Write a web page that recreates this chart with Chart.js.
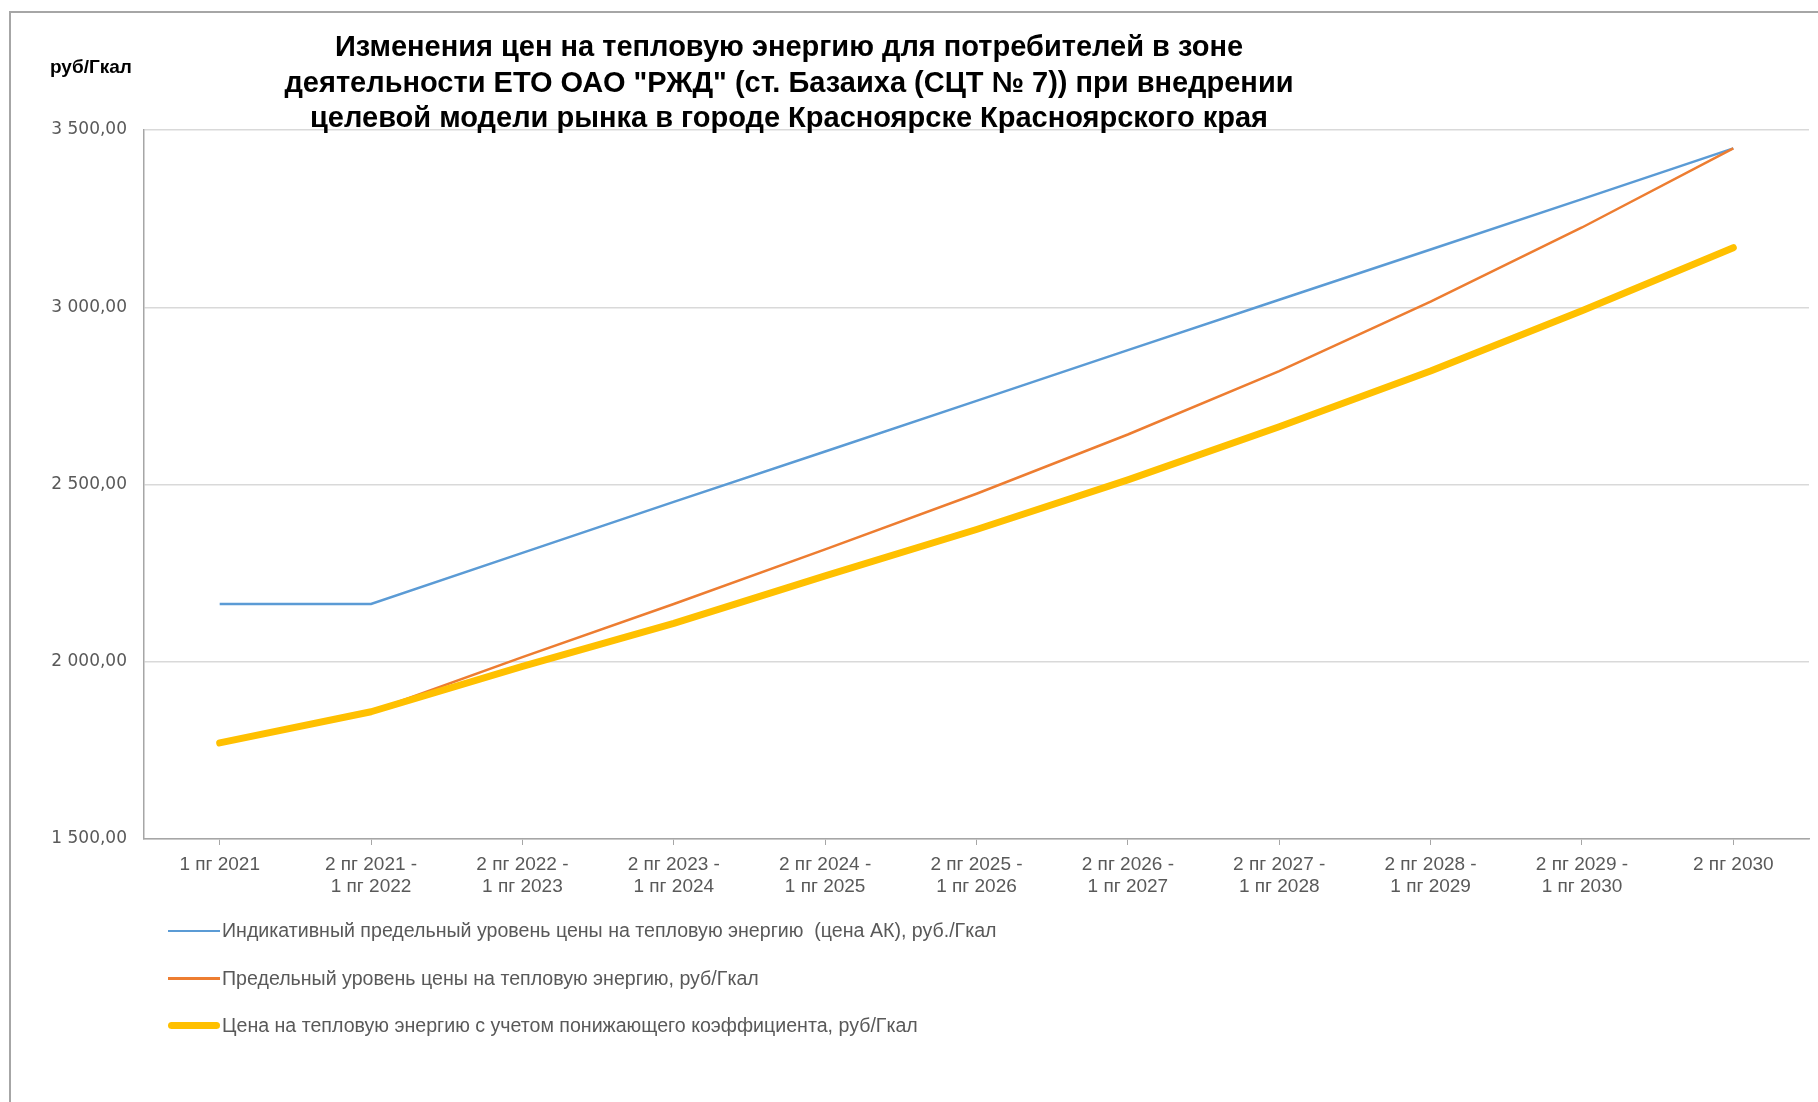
<!DOCTYPE html>
<html lang="ru">
<head>
<meta charset="utf-8">
<script src="https://cdn.jsdelivr.net/npm/chart.js@4.4.1/dist/chart.umd.min.js"></script>
<style>
  html, body { margin: 0; padding: 0; background: #fff; }
  #wrap { position: relative; width: 1818px; height: 1102px; overflow: hidden; }
  #frame { position: absolute; left: 9px; top: 11px; width: 1830px; height: 1120px;
           border-left: 2px solid #a6a6a6; border-top: 2px solid #a6a6a6; pointer-events: none; }
  #chart { position: absolute; left: 0; top: 0; }
  #legend { position: absolute; left: 168px; top: 907px; font-family: 'Liberation Sans', Arial, sans-serif;
            font-size: 19.6px; color: #595959; }
  .row { display: flex; align-items: center; height: 47.5px; white-space: pre; }
  .swatch { width: 52px; margin-right: 2px; }
</style>
</head>
<body>
<div id="wrap">
  <canvas id="chart" width="1818" height="1102"></canvas>
  <div id="frame"></div>
  <div id="legend"></div>
</div>
<script>
const categories = [
  ['1 пг 2021'],
  ['2 пг 2021 -', '1 пг 2022'],
  ['2 пг 2022 -', '1 пг 2023'],
  ['2 пг 2023 -', '1 пг 2024'],
  ['2 пг 2024 -', '1 пг 2025'],
  ['2 пг 2025 -', '1 пг 2026'],
  ['2 пг 2026 -', '1 пг 2027'],
  ['2 пг 2027 -', '1 пг 2028'],
  ['2 пг 2028 -', '1 пг 2029'],
  ['2 пг 2029 -', '1 пг 2030'],
  ['2 пг 2030']
];

// цена АК
const indicativePrice = [2163, 2163, 2307, 2451, 2593, 2736, 2879, 3021, 3163, 3305, 3448];
// предельный уровень
const limitPrice = [1771, 1859, 2013, 2163, 2317, 2474, 2641, 2820, 3016, 3225, 3448];
// с учетом понижающего коэффициента
const reducedPrice = [1771, 1859, 1987, 2108, 2242, 2373, 2513, 2663, 2820, 2990, 3168];

const yTicks = [1500, 2000, 2500, 3000, 3500];

const titleLines = [
  'Изменения цен на тепловую энергию для потребителей в зоне',
  'деятельности ЕТО ОАО "РЖД" (ст. Базаиха (СЦТ № 7)) при внедрении',
  'целевой модели рынка в городе Красноярске Красноярского края'
];
const unitLabel = 'руб/Гкал';

const seriesNames = [
  'Индикативный предельный уровень цены на тепловую энергию  (цена АК), руб./Гкал',
  'Предельный уровень цены на тепловую энергию, руб/Гкал',
  'Цена на тепловую энергию с учетом понижающего коэффициента, руб/Гкал'
];

function fmt(v) {
  const s = v.toFixed(2).replace('.', ',');
  const [i, d] = s.split(',');
  return i.replace(/\B(?=(\d{3})+(?!\d))/g, ' ') + ',' + d;
}

const textPlugin = {
  id: 'texts',
  beforeDraw(chart) {
    const ctx = chart.ctx;
    ctx.save();
    ctx.fillStyle = '#fff';
    ctx.fillRect(0, 0, chart.width, chart.height);
    ctx.restore();
  },
  afterDraw(chart) {
    const ctx = chart.ctx;
    ctx.save();
    ctx.fillStyle = '#000';
    ctx.textAlign = 'center';
    ctx.textBaseline = 'middle';
    ctx.font = 'bold 29px "Liberation Sans", Arial, sans-serif';
    titleLines.forEach((t, i) => ctx.fillText(t, 789, 48 + i * 35.5));
    ctx.textAlign = 'left';
    ctx.font = 'bold 19px "Liberation Sans", Arial, sans-serif';
    ctx.fillText(unitLabel, 50, 68);
    ctx.restore();
  }
};

const chart = new Chart(document.getElementById('chart'), {
  type: 'line',
  data: {
    labels: categories,
    datasets: [
      { label: seriesNames[0], data: indicativePrice, borderColor: '#5b9bd5', borderWidth: 2.5, order: 2 },
      { label: seriesNames[1], data: limitPrice, borderColor: '#ed7d31', borderWidth: 2.5, order: 1 },
      { label: seriesNames[2], data: reducedPrice, borderColor: '#ffc000', borderWidth: 7,
        borderCapStyle: 'round', borderJoinStyle: 'round', order: 0 }
    ]
  },
  options: {
    responsive: false,
    animation: false,
    events: [],
    elements: { point: { radius: 0 }, line: { tension: 0 } },
    layout: { padding: { left: 0, right: 9, top: 130, bottom: 193 } },
    plugins: { legend: { display: false }, title: { display: false }, tooltip: { enabled: false } },
    scales: {
      x: {
        offset: true,
        grid: { drawOnChartArea: false, drawTicks: true, tickLength: 6, color: '#a6a6a6' },
        border: { color: '#a6a6a6', width: 1.5 },
        ticks: {
          autoSkip: false, maxRotation: 0, padding: 8, color: '#595959',
          font: { family: '"Liberation Sans", Arial, sans-serif', size: 19, lineHeight: 1.2 }
        },
        afterFit(scale) { scale.height = 70; }
      },
      y: {
        min: 1500, max: 3500,
        afterBuildTicks(scale) { scale.ticks = yTicks.map(v => ({ value: v })); },
        grid: { color: '#d9d9d9', lineWidth: 1.5, drawTicks: false },
        border: { color: '#a6a6a6', width: 1.5 },
        ticks: {
          padding: 17, color: '#595959',
          font: { family: '"DejaVu Sans", Verdana, sans-serif', size: 17 },
          callback: v => fmt(v)
        },
        afterFit(scale) { scale.width = 144; }
      }
    }
  },
  plugins: [textPlugin]
});

// legend rows built from the datasets, stacked like the original
const legend = document.getElementById('legend');
chart.data.datasets.forEach(ds => {
  const row = document.createElement('div');
  row.className = 'row';
  const sw = document.createElement('div');
  sw.className = 'swatch';
  sw.style.height = ds.borderWidth + 'px';
  sw.style.background = ds.borderColor;
  if (ds.borderWidth > 4) sw.style.borderRadius = ds.borderWidth / 2 + 'px';
  const txt = document.createElement('span');
  txt.textContent = ds.label;
  row.appendChild(sw);
  row.appendChild(txt);
  legend.appendChild(row);
});
</script>
</body>
</html>
